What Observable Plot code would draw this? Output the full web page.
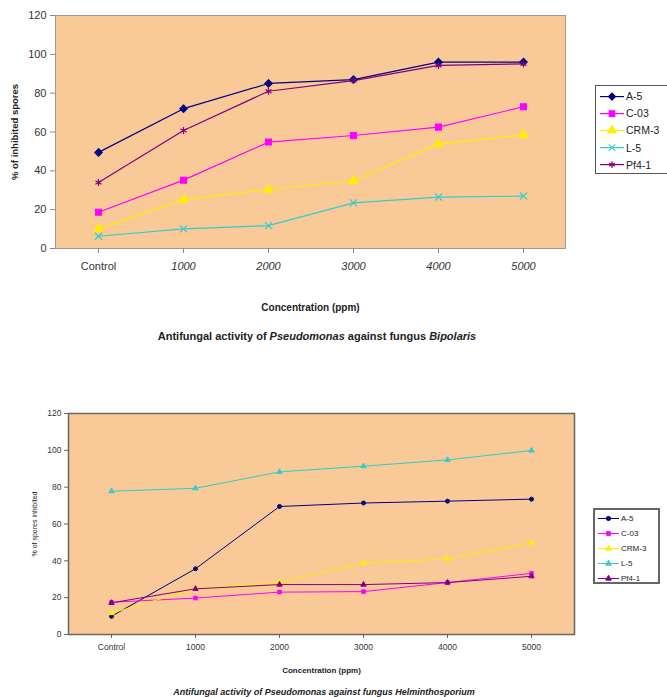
<!DOCTYPE html>
<html><head><meta charset="utf-8">
<script src="https://cdn.jsdelivr.net/npm/d3@7"></script>
<script src="https://cdn.jsdelivr.net/npm/@observablehq/plot@0.6"></script>
<style>
html,body{margin:0;padding:0;background:#fff;overflow:hidden;}
#wrap{position:relative;width:667px;height:697px;overflow:hidden;font-family:"Liberation Sans",Arial,sans-serif;color:#222;}
.chart{position:absolute;left:0;}
.cap{position:absolute;text-align:center;font-weight:bold;white-space:nowrap;}
.legend{position:absolute;background:#fff;box-sizing:border-box;}
.legend .row{display:flex;align-items:center;white-space:nowrap;}
.legend svg{display:block;flex:none;}
</style></head><body><div id="wrap"></div>
<script>
// ---- data ----
const categories = ["Control", "1000", "2000", "3000", "4000", "5000"];
const series = ["A-5", "C-03", "CRM-3", "L-5", "Pf4-1"];
const yTicks = [0, 20, 40, 60, 80, 100, 120];

// Bipolaris (% of inhibited spores)
const bipA5   = [49.5, 72, 85, 87, 96, 96];
const bipC03  = [18.7, 35.2, 54.8, 58.2, 62.5, 73];
const bipCRM3 = [10.1, 25.2, 30.4, 34.9, 53.9, 58.5];
const bipL5   = [6.3, 10.1, 11.8, 23.5, 26.5, 27];
const bipPf41 = [34, 60.8, 81, 86.5, 94.3, 95.1];

// Helminthosporium (% of spores inhibited)
const helA5   = [9.9, 35.7, 69.5, 71.4, 72.4, 73.5];
const helC03  = [17.5, 19.8, 23, 23.3, 28.2, 33.2];
const helCRM3 = [11.6, 24.8, 28.4, 38.9, 41, 49.8];
const helL5   = [77.8, 79.4, 88.3, 91.4, 94.8, 99.9];
const helPf41 = [17.2, 24.8, 27.1, 27.1, 28.2, 31.6];

const colors = ["#000080", "#FF00FF", "#FFEE00", "#33CCCC", "#800080"];
const symbols1 = ["diamond2", "square", "triangle", "times", "asterisk"];
const symbols2 = ["circle", "square", "triangle", "triangle", "triangle"];
const peach = "#FAC998";

function tidy(arrs) {
  const rows = [];
  arrs.forEach((vals, i) => vals.forEach((v, j) => rows.push({series: series[i], cat: categories[j], value: v})));
  return rows;
}
const data1 = tidy([bipA5, bipC03, bipCRM3, bipL5, bipPf41]);
const data2 = tidy([helA5, helC03, helCRM3, helL5, helPf41]);

const wrap = document.getElementById("wrap");
const FONT = "Liberation Sans, Arial, sans-serif";

// ---- chart 1 ----
const p1 = Plot.plot({
  width: 667, height: 320,
  marginLeft: 55, marginRight: 102, marginTop: 15, marginBottom: 72,
  style: {fontFamily: FONT, fontSize: "11px", color: "#333", background: "transparent"},
  x: {type: "point", domain: categories, padding: 0.5},
  y: {domain: [0, 120]},
  color: {domain: series, range: colors},
  symbol: {domain: series, range: symbols1},
  marks: [
    Plot.frame({fill: peach, stroke: "#9a9a9a"}),
    Plot.axisY(yTicks, {tickSize: 5, tickPadding: 4, stroke: "#888", label: "% of inhibited spores", labelAnchor: "center", labelOffset: 44, labelArrow: false}),
    Plot.axisX(["Control"], {tickSize: 5, tickPadding: 9, stroke: "#888", label: null}),
    Plot.axisX(categories.slice(1), {tickSize: 5, tickPadding: 9, stroke: "#888", fontStyle: "italic", label: "Concentration (ppm)", labelAnchor: "center", labelOffset: 62, labelArrow: false}),
    Plot.line(data1, {x: "cat", y: "value", z: "series", stroke: "series", strokeWidth: 1.2}),
    Plot.dot(data1, {x: "cat", y: "value", symbol: "series", fill: "series", stroke: "series", r: 3.3, strokeWidth: 1.2})
  ]
});
p1.classList.add("chart");
p1.style.top = "0px";
wrap.appendChild(p1);

// ---- chart 2 ----
const p2 = Plot.plot({
  width: 667, height: 280,
  marginLeft: 68, marginRight: 93, marginTop: 13, marginBottom: 46,
  style: {fontFamily: FONT, fontSize: "8.5px", color: "#333", background: "transparent"},
  x: {type: "point", domain: categories, padding: 0.5},
  y: {domain: [0, 120]},
  color: {domain: series, range: colors},
  symbol: {domain: series, range: symbols2},
  marks: [
    Plot.frame({fill: peach, stroke: "#666", strokeWidth: 1.5}),
    Plot.axisY(yTicks, {tickSize: 4, tickPadding: 3, stroke: "#666", label: "% of spores inhibited", labelAnchor: "center", labelOffset: 36, labelArrow: false}),
    Plot.axisX(categories, {tickSize: 4, tickPadding: 5, stroke: "#666", label: "Concentration (ppm)", labelAnchor: "center", labelOffset: 38, labelArrow: false}),
    Plot.line(data2, {x: "cat", y: "value", z: "series", stroke: "series", strokeWidth: 1}),
    Plot.dot(data2, {x: "cat", y: "value", symbol: "series", fill: "series", stroke: "series", r: 2, strokeWidth: 1})
  ]
});
p2.classList.add("chart");
p2.style.top = "400px";
wrap.appendChild(p2);

// style axis labels
function styleLabel(svg, which, size, weight) {
  d3.select(svg).selectAll(`g[aria-label="${which}-axis label"]`).attr("font-style", "normal");
  d3.select(svg).selectAll(`g[aria-label="${which}-axis label"] text`)
    .attr("font-size", size).attr("font-weight", weight).attr("font-style", "normal").attr("fill", "#222");
}
styleLabel(p1, "y", "9.5px", "bold");
styleLabel(p1, "x", "10px", "bold");
styleLabel(p2, "y", "7px", "normal");
styleLabel(p2, "x", "8px", "bold");

// ---- legends ----
const d3sym = {diamond2: d3.symbolDiamond2, square: d3.symbolSquare, triangle: d3.symbolTriangle,
  times: d3.symbolTimes, asterisk: d3.symbolAsterisk, circle: d3.symbolCircle};
function legend(o) {
  const div = document.createElement("div");
  div.className = "legend";
  Object.assign(div.style, {left: o.left + "px", top: o.top + "px", width: o.width + "px", height: o.height + "px",
    border: o.border, paddingTop: o.padTop + "px", paddingLeft: o.padLeft + "px", fontSize: o.fontSize + "px", color: "#222"});
  series.forEach((s, i) => {
    const row = document.createElement("div");
    row.className = "row";
    row.style.height = o.rowH + "px";
    const svg = d3.create("svg").attr("width", o.lineW).attr("height", o.rowH);
    svg.append("line").attr("x1", 0).attr("x2", o.lineW).attr("y1", o.rowH / 2).attr("y2", o.rowH / 2)
      .attr("stroke", colors[i]).attr("stroke-width", o.sw);
    svg.append("path").attr("d", d3.symbol(d3sym[o.symbols[i]], o.area)())
      .attr("transform", `translate(${o.lineW / 2},${o.rowH / 2})`)
      .attr("fill", colors[i]).attr("stroke", colors[i]).attr("stroke-width", o.sw);
    row.appendChild(svg.node());
    const t = document.createElement("span");
    t.textContent = s;
    t.style.marginLeft = o.gap + "px";
    row.appendChild(t);
    div.appendChild(row);
  });
  wrap.appendChild(div);
}
legend({left: 595, top: 85, width: 90, height: 89, border: "1px solid #555", padTop: 1.5, padLeft: 4,
  rowH: 17.2, lineW: 24, fontSize: 10.5, sw: 1.2, area: 30, gap: 2, symbols: symbols1});
legend({left: 593, top: 508, width: 67, height: 76, border: "2px solid #666", padTop: 0.5, padLeft: 3,
  rowH: 15, lineW: 21, fontSize: 8, sw: 1, area: 14, gap: 2, symbols: symbols2});

// ---- captions ----
function caption(html, cx, cy, size, italicAll) {
  const d = document.createElement("div");
  d.className = "cap";
  d.innerHTML = html;
  Object.assign(d.style, {left: (cx - 300) + "px", width: "600px", top: (cy - size * 0.6) + "px",
    fontSize: size + "px", lineHeight: (size * 1.2) + "px", fontStyle: italicAll ? "italic" : "normal"});
  wrap.appendChild(d);
}
caption("Antifungal activity of <i>Pseudomonas</i> against fungus <i>Bipolaris</i>", 317, 337, 11, false);
caption("Antifungal activity of Pseudomonas against fungus Helminthosporium", 324, 692, 9, true);
</script>
</body></html>
